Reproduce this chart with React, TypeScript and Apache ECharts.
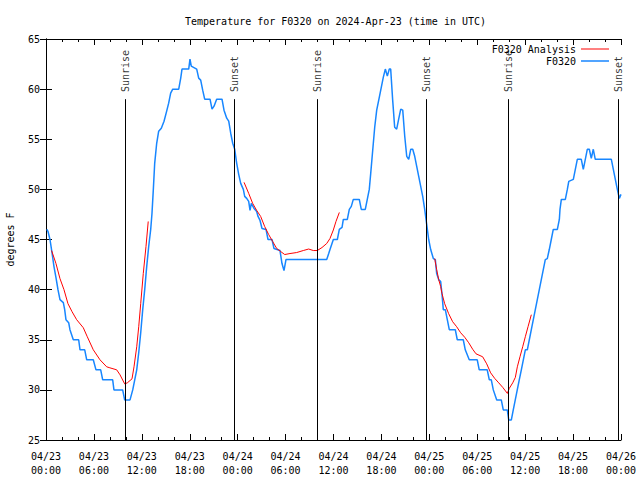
import React, { useEffect, useRef } from 'react';
import * as echarts from 'echarts';

const FONT = 'DejaVu Sans Mono';

const titleText = 'Temperature for F0320 on 2024-Apr-23 (time in UTC)';
const yName = 'degrees F';
const dayLabels = ['04/23', '04/24', '04/25', '04/26'];
const seriesNames = ['F0320 Analysis', 'F0320'];

// hours since 2024-04-23 00:00 UTC
const sunLabels = ['Sunrise', 'Sunset', 'Sunrise', 'Sunset', 'Sunrise', 'Sunset'];
const sunHours = [9.93, 23.57, 33.96, 47.65, 57.86, 71.68];

const observed: [number, number][] = [
  [0.1, 46], [0.25, 45.8], [0.5, 45], [0.75, 43.7], [1.0, 42.3], [1.25, 41.2], [1.5, 40], [1.75, 39],
  [2.17, 38.7], [2.34, 38], [2.5, 37], [2.84, 36.7], [3.0, 36], [3.42, 35], [4.09, 35], [4.26, 34],
  [4.85, 34], [5.1, 33], [5.92, 33], [6.26, 32], [6.85, 32], [7.1, 31], [8.35, 31], [8.51, 30],
  [9.6, 30], [9.85, 29], [10.52, 29], [10.86, 30], [11.11, 31], [11.36, 32], [11.61, 33.7], [11.86, 35.7],
  [12.11, 38], [12.36, 40], [12.61, 42.3], [12.86, 44.3], [13.11, 46], [13.27, 47.6], [13.44, 50], [13.61, 52.6],
  [13.86, 54.6], [14.11, 55.8], [14.44, 56.1], [14.78, 56.8], [15.11, 57.8], [15.36, 58.6], [15.61, 59.6], [15.87, 60],
  [16.62, 60], [16.87, 61.1], [17.03, 62], [17.87, 62], [18.03, 63], [18.19, 62.3], [18.87, 62], [19.12, 61.1],
  [19.37, 60.9], [19.62, 59.9], [19.87, 59], [20.54, 59], [20.79, 58], [21.04, 58.3], [21.37, 59], [22.04, 59],
  [22.29, 57.9], [22.63, 57.1], [22.88, 56.8], [23.13, 55.6], [23.38, 54.6], [23.63, 54], [23.88, 52.6], [24.13, 51.5],
  [24.38, 50.6], [24.71, 50], [24.88, 49.3], [25.13, 49.1], [25.38, 48.8], [25.55, 47.9], [25.71, 48.6], [26.05, 48.1],
  [26.38, 47.8], [26.55, 47.3], [26.8, 46.9], [27.05, 46.1], [27.55, 46], [27.8, 45], [28.3, 45], [28.55, 44.1],
  [29.3, 43.9], [29.55, 42.6], [29.8, 41.9], [30.05, 43], [35.15, 43], [35.4, 43.6], [35.56, 44], [35.98, 45],
  [36.48, 45], [36.73, 46], [37.07, 46.2], [37.23, 47], [37.73, 47], [37.98, 48], [38.23, 48.3], [38.48, 49],
  [39.23, 49], [39.48, 48], [39.98, 48], [40.23, 49], [40.48, 50], [40.66, 51.6], [40.91, 53.9], [41.16, 56.2],
  [41.41, 57.9], [41.74, 59.2], [41.99, 60.2], [42.24, 61.2], [42.49, 62], [42.74, 61.3], [42.99, 62], [43.16, 62],
  [43.41, 58.9], [43.66, 56.2], [43.91, 56], [44.16, 57], [44.42, 58], [44.67, 57.9], [44.92, 55.3], [45.17, 53.3],
  [45.42, 53], [45.67, 54], [45.92, 54], [46.17, 53.3], [46.42, 52.3], [46.67, 51.3], [46.92, 50.3], [47.17, 49.3],
  [47.42, 48], [47.67, 46.5], [47.92, 45], [48.17, 44], [48.5, 43.1], [48.75, 43], [48.92, 41.6], [49.17, 41],
  [49.42, 40.8], [49.59, 39.5], [49.75, 38], [50.0, 38], [50.25, 37], [50.5, 36], [51.25, 36], [51.5, 35],
  [52.25, 35], [52.5, 34], [53.0, 33], [54.0, 33], [54.25, 32], [55.25, 32], [55.51, 31], [55.76, 31],
  [56.01, 30], [56.44, 29], [57.01, 29], [57.26, 28], [57.76, 28], [57.94, 27], [58.27, 27], [58.51, 28],
  [58.76, 29], [59.01, 30], [59.26, 31], [59.52, 32], [59.77, 33], [60.02, 34], [60.27, 34], [60.52, 35],
  [60.77, 36], [61.02, 37], [61.27, 38], [61.52, 39], [61.77, 40], [62.02, 41], [62.27, 42], [62.52, 43],
  [62.77, 43.1], [63.02, 44], [63.27, 45], [63.52, 46], [64.03, 46], [64.28, 47], [64.36, 48], [64.53, 49],
  [65.03, 49], [65.28, 50], [65.46, 50.8], [66.03, 51], [66.28, 52], [66.53, 53], [67.03, 53], [67.28, 52],
  [67.53, 53], [67.78, 54], [68.03, 54], [68.28, 53.1], [68.53, 54], [68.78, 53], [70.79, 53], [71.04, 52],
  [71.29, 51], [71.54, 50], [71.79, 49.1], [72, 49.5],
];

const analysisDay1: [number, number][] = [
  [0.7, 43.9], [1.25, 42.6], [1.75, 41.1], [2.25, 40], [2.75, 38.6], [3.26, 37.8], [3.84, 37], [4.67, 36.2],
  [5.17, 35.3], [5.92, 34], [6.76, 33], [7.6, 32.3], [8.0, 32.2], [8.85, 32], [9.27, 31.5], [9.85, 30.6],
  [10.18, 30.7], [10.77, 31.1], [11.02, 32.3], [11.36, 34.3], [11.61, 36.3], [11.86, 38.6], [12.18, 41.6],
  [12.52, 44.3], [12.8, 46.8],
];
const analysisDay2: [number, number][] = [
  [24.8, 50.7], [25.38, 49.6], [25.88, 48.6], [26.38, 47.9], [26.88, 47.3], [27.38, 46.3], [27.88, 45.5],
  [28.38, 44.8], [28.89, 44.1], [29.39, 43.8], [29.89, 43.5], [30.55, 43.6], [31.39, 43.7], [32.22, 43.9],
  [32.89, 44.05], [33.47, 43.9], [33.97, 43.9], [34.56, 44.2], [35.15, 44.6], [35.56, 45.1], [35.98, 45.95],
  [36.31, 46.8], [36.73, 47.7],
];
const analysisDay3: [number, number][] = [
  [48.67, 43.1], [48.92, 42], [49.17, 41], [49.42, 40.3], [49.59, 39.6], [49.92, 38.6], [50.42, 37.6],
  [50.92, 36.8], [51.42, 36.3], [51.92, 35.7], [52.43, 35.25], [52.93, 34.7], [53.43, 34.05], [53.84, 33.6],
  [54.68, 33.3], [55.18, 32.6], [55.68, 31.7], [56.18, 31.15], [56.69, 30.7], [57.19, 30.25], [57.77, 29.65],
  [58.01, 30.15], [58.44, 30.7], [58.77, 31.25], [59.02, 32.3], [59.35, 33.3], [59.69, 34.3], [60.02, 35.3],
  [60.36, 36.3], [60.77, 37.5],
];

const Y_MIN = 25;
const Y_MAX = 65;
const SUN_LINE_TOP = 59;
const SUN_LABEL_AT = 59.7;

export default function App() {
  const ref = useRef<HTMLDivElement>(null);
  useEffect(() => {
    const chart = echarts.init(ref.current!, null, { renderer: 'svg' });
    const txt = { fontFamily: FONT, fontSize: 10, color: '#000' };
    const analysisData: any[] = [
      ...analysisDay1, [18, null], ...analysisDay2, [42, null], ...analysisDay3,
    ];
    const axisCommonX = {
      type: 'value', min: 0, max: 72, interval: 6,
      axisLine: { show: true, lineStyle: { color: '#000', width: 1 } },
      axisTick: { show: true, inside: true, length: 6, lineStyle: { color: '#000' } },
      minorTick: { show: true, splitNumber: 3, length: 3, lineStyle: { color: '#000' } },
      splitLine: { show: false },
    };
    const axisCommonY = {
      type: 'value', min: Y_MIN, max: Y_MAX, interval: 5,
      axisLine: { show: true, lineStyle: { color: '#000', width: 1 } },
      axisTick: { show: true, inside: true, length: 6, lineStyle: { color: '#000' } },
      splitLine: { show: false },
    };
    const legendCommon = {
      right: 31, align: 'right', itemWidth: 28, itemHeight: 12, itemGap: 0, padding: 0,
      textStyle: txt,
    };
    chart.setOption({
      animation: false,
      backgroundColor: '#fff',
      textStyle: { fontFamily: FONT },
      title: {
        text: titleText, left: 180, top: 11,
        textStyle: { ...txt, fontWeight: 'normal' },
      },
      grid: {
        left: 46, right: 19, top: 39, bottom: 40, containLabel: false,
        outerBoundsMode: 'none',
      },
      legend: [
        {
          ...legendCommon, data: [seriesNames[0]], top: 44,
          icon: 'path://M0,5 L28,5 L28,6 L0,6 Z', itemStyle: { color: '#ff0000' },
        },
        {
          ...legendCommon, data: [seriesNames[1]], top: 56,
          icon: 'path://M0,5 L28,5 L28,6.5 L0,6.5 Z', itemStyle: { color: '#1786ff' },
        },
      ],
      xAxis: [
        {
          ...axisCommonX, position: 'bottom',
          axisLabel: {
            ...txt, margin: 9, lineHeight: 14,
            formatter: (v: number) => {
              const d = Math.floor(v / 24);
              const hh = Math.round(v - d * 24);
              return dayLabels[d] + '\n' + String(hh).padStart(2, '0') + ':00';
            },
          },
        },
        { ...axisCommonX, position: 'top', axisLabel: { show: false } },
      ],
      yAxis: [
        {
          ...axisCommonY, position: 'left',
          name: yName, nameLocation: 'middle', nameGap: 31, nameRotate: 90,
          nameTextStyle: txt,
          axisLabel: { ...txt, margin: 6 },
        },
        { ...axisCommonY, position: 'right', axisLabel: { show: false } },
      ],
      series: [
        {
          name: seriesNames[1], type: 'line', data: observed, showSymbol: false, symbol: 'none',
          lineStyle: { color: '#1786ff', width: 1.5 }, itemStyle: { color: '#1786ff' },
          markLine: {
            silent: true, symbol: 'none', animation: false,
            lineStyle: { color: '#000', width: 1, type: 'solid' },
            label: { show: false },
            data: sunHours.map((h) => [{ coord: [h, Y_MIN] }, { coord: [h, SUN_LINE_TOP] }]),
          },
        },
        {
          name: seriesNames[0], type: 'line', data: analysisData, showSymbol: false, symbol: 'none',
          connectNulls: false,
          lineStyle: { color: '#ff0000', width: 1 }, itemStyle: { color: '#ff0000' },
        },
        {
          name: 'sun', type: 'scatter', symbolSize: 0.1, silent: true,
          itemStyle: { color: 'transparent' },
          data: sunHours.map((h) => [h, SUN_LABEL_AT]),
          label: {
            show: true, position: [0, 0], rotate: 90, align: 'left', verticalAlign: 'middle',
            ...txt,
            formatter: (p: any) => sunLabels[p.dataIndex],
          },
        },
      ],
    });
    return () => chart.dispose();
  }, []);
  return <div ref={ref} style={{ position: 'absolute', left: 0, top: 0, width: 640, height: 480 }} />;
}
